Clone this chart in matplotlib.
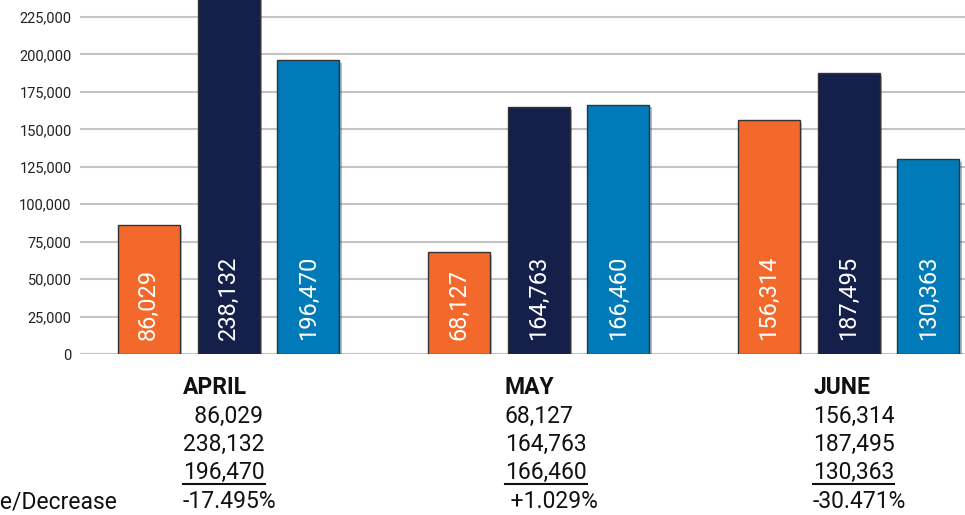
import matplotlib
matplotlib.use("Agg")
import matplotlib.pyplot as plt
import matplotlib.patheffects as pe
from matplotlib.lines import Line2D
import numpy as np

plt.rcParams['font.family'] = ['Roboto', 'DejaVu Sans']

months = ["APRIL", "MAY", "JUNE"]
series_a = [86029, 68127, 156314]
series_b = [238132, 164763, 187495]
series_c = [196470, 166460, 130363]
changes = ["-17.495%", "+1.029%", "-30.471%"]
yticks = [0, 25000, 50000, 75000, 100000, 125000, 150000, 175000, 200000, 225000]

colors = ["#F2692B", "#15204A", "#007AB8"]

W, H = 965, 515
fig = plt.figure(figsize=(W / 100, H / 100), dpi=100)
ax = fig.add_axes([80 / W, (H - 354) / H, (W - 80) / W, 354 / H])

x = np.arange(len(months))
offset = 0.258
width = 0.2
shadow = [pe.SimplePatchShadow(offset=(2, -2), alpha=0.35, rho=0.6), pe.Normal()]

for i, vals in enumerate([series_a, series_b, series_c]):
    xs = x + (i - 1) * offset
    bars = ax.bar(xs, vals, width=width, color=colors[i], edgecolor="#333333",
                  linewidth=1.0, zorder=3)
    for b in bars:
        b.set_path_effects(shadow)
    for xi, v in zip(xs, vals):
        ax.annotate(f"{v:,}", (xi, 0), xytext=(0, 10), textcoords="offset points",
                    rotation=90, ha="center", va="bottom", color="white",
                    fontsize=17, zorder=4)

ax.set_xlim((80 - 228.5) / 310, (965 - 228.5) / 310)
ax.set_ylim(0, 236350)
ax.set_yticks(yticks)
ax.set_yticklabels([f"{t:,}" for t in yticks])
ax.set_xticks([])
ax.tick_params(axis="y", length=0, pad=6, labelsize=10.5, labelcolor="#222222")
for s in ax.spines.values():
    s.set_visible(False)
ax.yaxis.grid(True, color="#c4c4c4", linewidth=1.5, zorder=0)
ax.set_axisbelow(True)

# table of values under the chart
block_x = [183, 505, 813]
baselines = [394, 423, 451, 479, 508]
fs = 16.5


def fy(py):
    return 1 - py / H


fig.canvas.draw()
renderer = fig.canvas.get_renderer()
for j in range(len(months)):
    bx = block_x[j] / W
    fig.text(bx, fy(baselines[0]), months[j], fontsize=fs, fontweight="bold",
             va="baseline", color="#111111")
    rows = [f"{series_a[j]:,}", f"{series_b[j]:,}", f"{series_c[j]:,}"]
    for k, r in enumerate(rows):
        # the April column right-aligns its first number with spaces
        pad = "  " if (j == 0 and k == 0) else ""
        t = fig.text(bx, fy(baselines[k + 1]), pad + r, fontsize=fs,
                     va="baseline", color="#111111")
        if k == 2:
            bb = t.get_window_extent(renderer)
            fig.add_artist(Line2D([bb.x0 / W, bb.x1 / W], [fy(484), fy(484)],
                                  color="#111111", linewidth=1.5))
    pre = " " if changes[j].startswith("+") else ""
    fig.text(bx, fy(baselines[4]), pre + changes[j], fontsize=fs,
             va="baseline", color="#111111")

fig.text(117 / W, fy(baselines[4]), "Increase/Decrease", fontsize=fs,
         ha="right", va="baseline", color="#111111")

fig.savefig("out.png", dpi=100)
